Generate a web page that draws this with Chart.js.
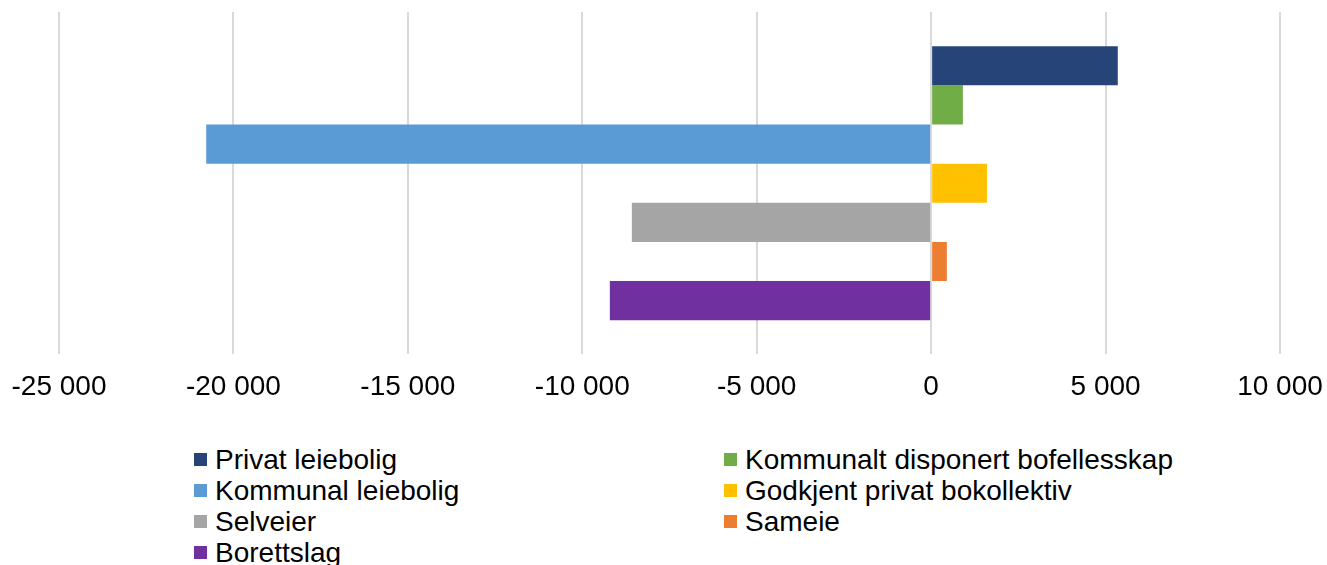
<!DOCTYPE html>
<html>
<head>
<meta charset="utf-8">
<script src="https://cdn.jsdelivr.net/npm/chart.js@4/dist/chart.umd.min.js"></script>
<style>
    body { margin: 0; background: #fff; font-family: "Liberation Sans", Arial, sans-serif; }
    #wrap { position: relative; width: 1327px; height: 565px; }
    #myChart { position: absolute; left: 0; top: 0; }
    #legend {
        position: absolute; left: 194px; top: 444px;
        display: grid; grid-template-columns: 530px 530px;
        font-size: 28px; line-height: 31px; color: #000;
    }
    .item { display: flex; align-items: center; white-space: nowrap; }
    .box { width: 13px; height: 13px; margin-right: 8px; flex: none; }
</style>
</head>
<body>
<div id="wrap">
    <canvas id="myChart" width="1327" height="439"></canvas>
    <div id="legend"></div>
</div>
<script>
// --- Data ---
const categories = [''];
const seriesNames = [
    'Privat leiebolig',
    'Kommunalt disponert bofellesskap',
    'Kommunal leiebolig',
    'Godkjent privat bokollektiv',
    'Selveier',
    'Sameie',
    'Borettslag'
];
const seriesValues = [5350, 910, -20780, 1600, -8580, 450, -9210];
const seriesColors = ['#264478', '#70AD47', '#5B9BD5', '#FFC000', '#A5A5A5', '#ED7D31', '#7030A0'];
const xTicks = [-25000, -20000, -15000, -10000, -5000, 0, 5000, 10000];

function formatNumber(v) {
    const s = String(Math.abs(v)).replace(/\B(?=(\d{3})+(?!\d))/g, ' ');
    return (v < 0 ? '-' : '') + s;
}

// --- Chart ---
const datasets = seriesNames.map((name, i) => ({
    label: name,
    data: [seriesValues[i]],
    backgroundColor: seriesColors[i],
    borderWidth: 0,
    categoryPercentage: 0.8,
    barPercentage: 1.0
}));

const ctx = document.getElementById('myChart').getContext('2d');
new Chart(ctx, {
    type: 'bar',
    data: { labels: categories, datasets: datasets },
    options: {
        indexAxis: 'y',
        responsive: false,
        animation: false,
        layout: { padding: { left: 59, right: 47, top: 12, bottom: 19 } },
        plugins: { legend: { display: false }, tooltip: { enabled: false } },
        scales: {
            x: {
                min: xTicks[0],
                max: xTicks[xTicks.length - 1],
                afterBuildTicks: (axis) => { axis.ticks = xTicks.map(v => ({ value: v })); },
                // labels may hang over the edges, the layout padding decides the plot area
                afterFit: (axis) => { axis.paddingLeft = 0; axis.paddingRight = 0; },
                grid: { color: '#d9d9d9', lineWidth: 2, drawTicks: false },
                border: { display: false },
                ticks: {
                    padding: 16,
                    color: '#000',
                    font: { family: '"Liberation Sans", Arial, sans-serif', size: 28 },
                    maxRotation: 0,
                    callback: (v) => formatNumber(v)
                }
            },
            y: { display: false }
        }
    }
});

// --- Legend (two columns, row by row) ---
const legend = document.getElementById('legend');
seriesNames.forEach((name, i) => {
    const item = document.createElement('div');
    item.className = 'item';
    item.innerHTML = '<span class="box" style="background:' + seriesColors[i] + '"></span>' + name;
    legend.appendChild(item);
});
</script>
</body>
</html>
